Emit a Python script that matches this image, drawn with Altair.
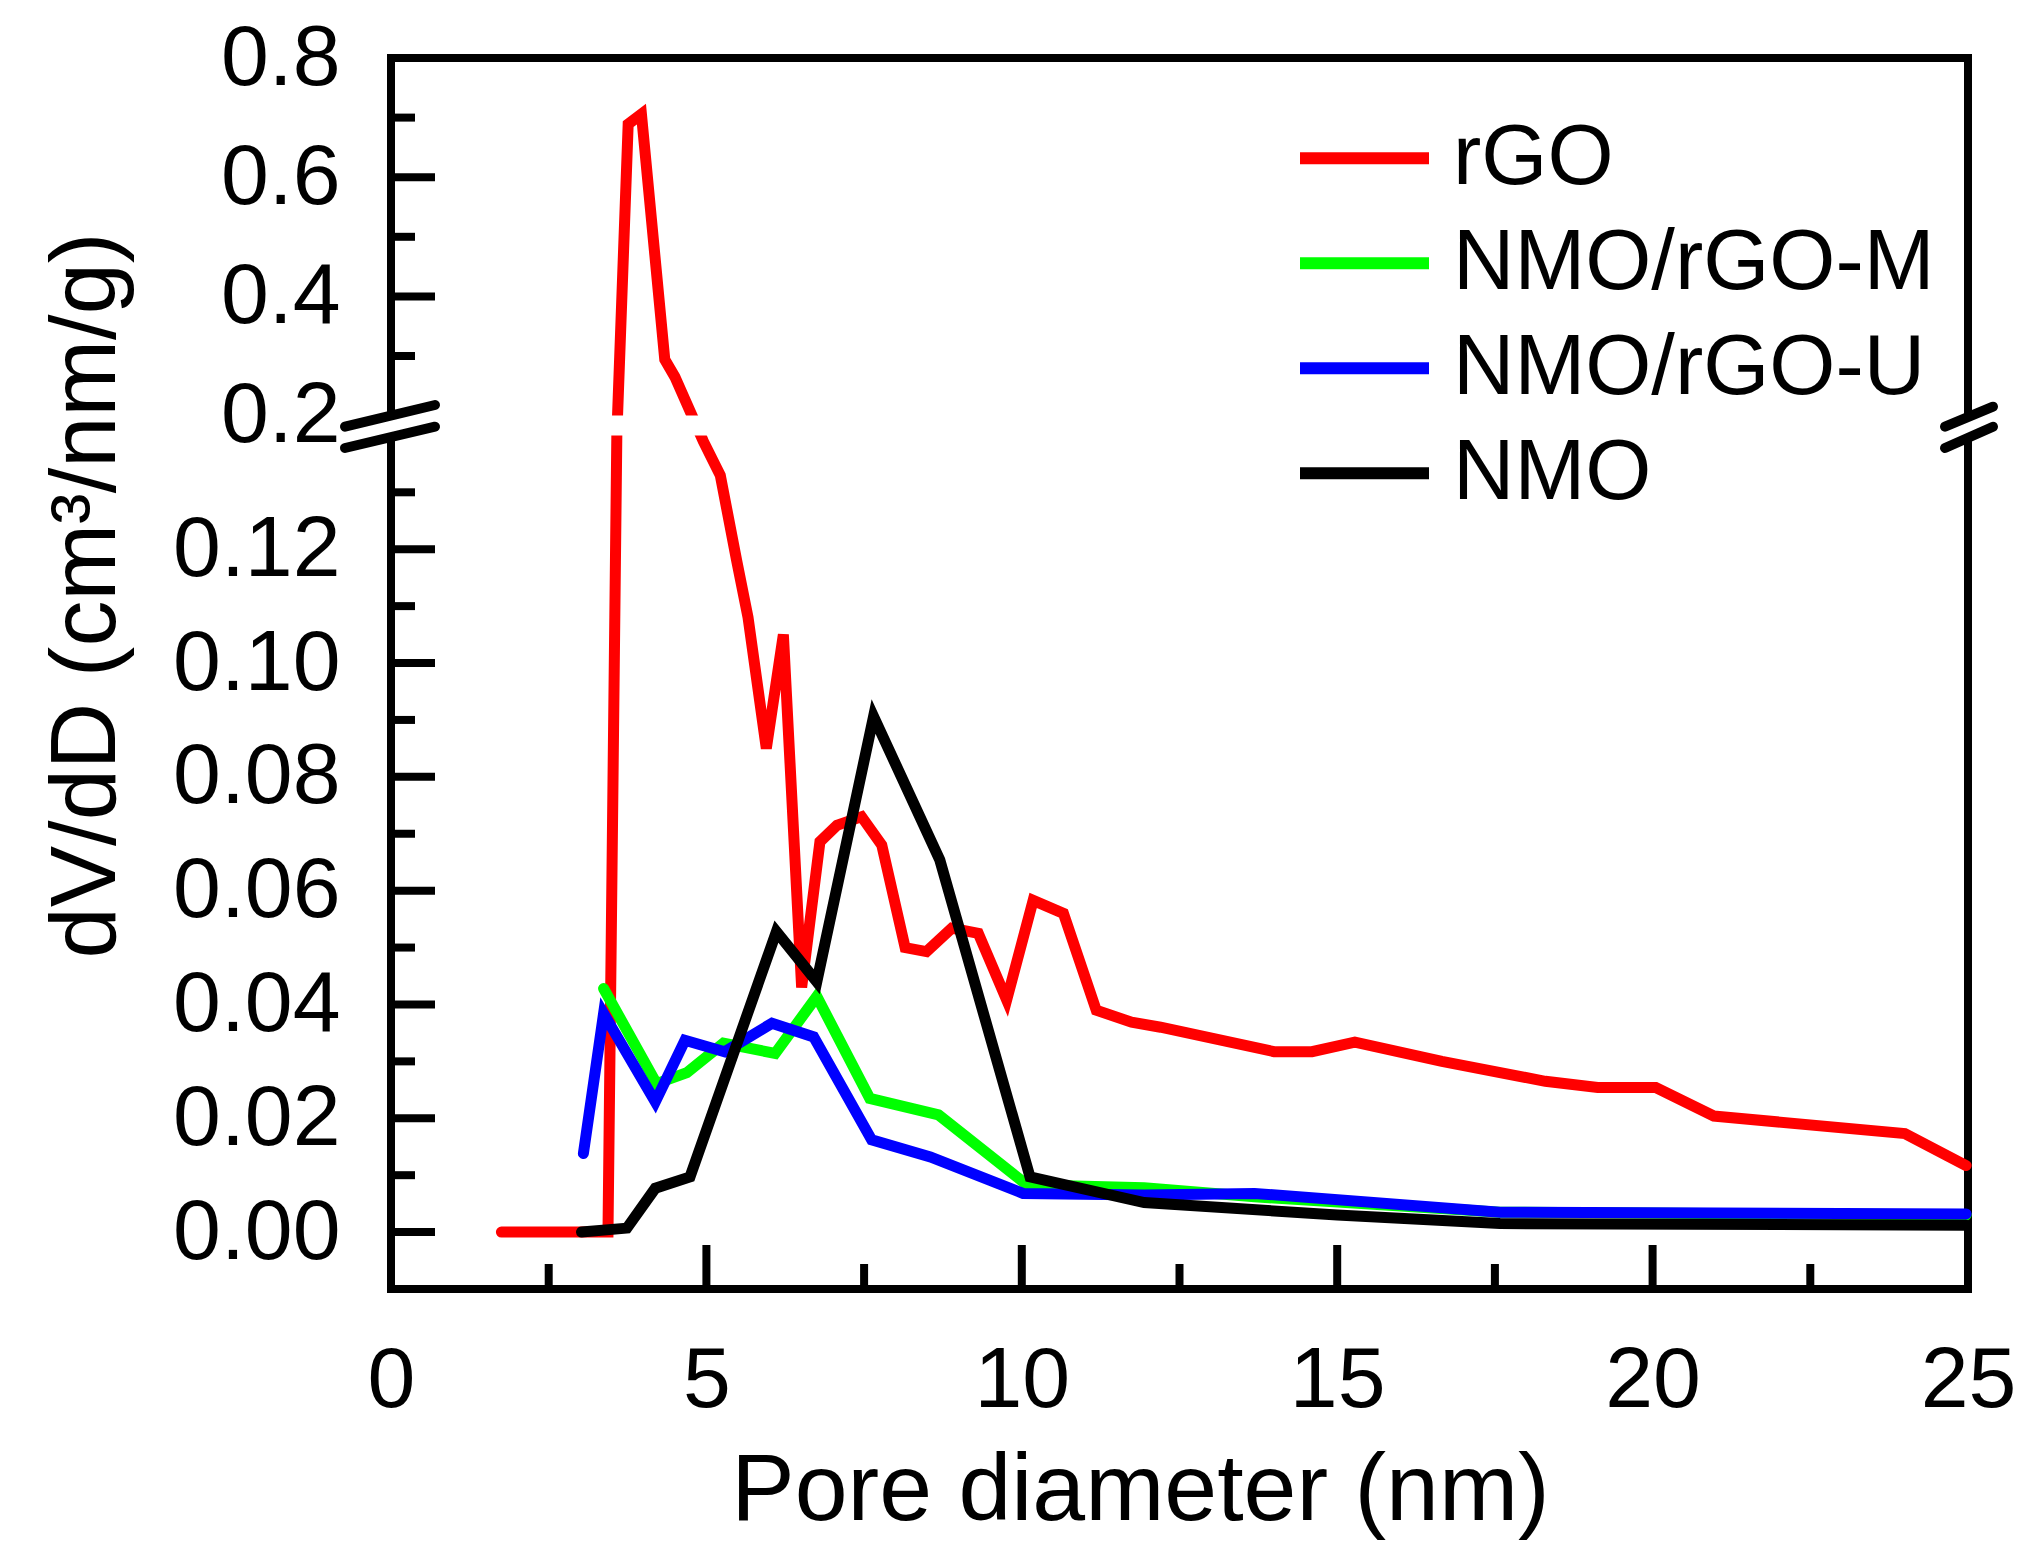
import altair as alt
import pandas as pd

# ---------------- data ----------------
series_names = ["rGO", "NMO/rGO-M", "NMO/rGO-U", "NMO"]
series_colors = ["#ff0000", "#00ff00", "#0000ff", "#000000"]

rgo_x = [1.75, 3.44, 3.58, 3.76, 3.97, 4.34, 4.50, 4.95, 5.22, 5.48, 5.66, 5.95,
         6.22, 6.51, 6.80, 7.07, 7.46, 7.78, 8.15, 8.49, 8.89, 9.31, 9.76, 10.18,
         10.66, 11.18, 11.74, 12.20, 14.00, 14.60, 15.28, 16.66, 18.30, 19.13,
         20.05, 20.97, 24.00, 24.97]
rgo_y = [0.0, 0.0, 0.14, 0.689, 0.706, 0.294, 0.265, 0.139, 0.133, 0.118, 0.108, 0.085,
         0.105, 0.043, 0.0686, 0.0715, 0.073, 0.068, 0.050, 0.0493, 0.0534, 0.0525, 0.0408, 0.0583,
         0.056, 0.039, 0.0369, 0.036, 0.0317, 0.0317, 0.0334, 0.030, 0.0265, 0.0254,
         0.0254, 0.0204, 0.0173, 0.0117]

m_x = [3.37, 4.21, 4.69, 5.27, 6.09, 6.75, 7.59, 8.68, 10.08, 11.94, 13.69, 17.58, 24.97]
m_y = [0.0428, 0.0261, 0.028, 0.0332, 0.0314, 0.0414, 0.0235, 0.0206, 0.0083, 0.0078, 0.0062, 0.0035, 0.0030]

u_x = [3.05, 3.37, 4.19, 4.66, 5.29, 6.04, 6.70, 7.62, 8.55, 10.02, 11.94, 13.69, 17.58, 24.97]
u_y = [0.0138, 0.0384, 0.0229, 0.0337, 0.0317, 0.0367, 0.0343, 0.0162, 0.0132, 0.0068, 0.0065, 0.0068, 0.0035, 0.0032]

nmo_x = [3.02, 3.74, 4.19, 4.74, 6.11, 6.75, 7.65, 8.70, 10.13, 11.94, 15.00, 17.58, 24.97]
nmo_y = [0.0, 0.0007, 0.0077, 0.0097, 0.0528, 0.044, 0.0906, 0.0654, 0.0097, 0.0052, 0.0030, 0.0015, 0.0012]

x_labels = [0, 5, 10, 15, 20, 25]
x_major = [5, 10, 15, 20]
x_minor = [2.5, 7.5, 12.5, 17.5, 22.5]
y_labels = [0.00, 0.02, 0.04, 0.06, 0.08, 0.10, 0.12, 0.2, 0.4, 0.6, 0.8]
y_major = [0.00, 0.02, 0.04, 0.06, 0.08, 0.10, 0.12, 0.4, 0.6]
y_minor = [0.01, 0.03, 0.05, 0.07, 0.09, 0.11, 0.13, 0.3, 0.5, 0.7]

# broken y axis: lower part -0.01..0.14, upper part 0.2..0.8
Y_DOMAIN = [-0.01, 0.14, 0.2, 0.8]
BREAK_LO, BREAK_HI = 0.14, 0.2

# ---------------- layout ----------------
W, H = 1577, 1231
Y_RANGE = [H, 377.4, 357.6, 0]
FONT = "Liberation Sans"
XTITLE = "Pore diameter (nm)"
YTITLE = "dV/dD (cm³/nm/g)"

rows = []
for name, xs, ys in [("rGO", rgo_x, rgo_y), ("NMO/rGO-M", m_x, m_y),
                     ("NMO/rGO-U", u_x, u_y), ("NMO", nmo_x, nmo_y)]:
    for i, (a, b) in enumerate(zip(xs, ys)):
        rows.append({"series": name, "x": a, "y": b, "order": i})
df = pd.DataFrame(rows)

xscale = alt.Scale(domain=[0, 25], nice=False, zero=False)
yscale = alt.Scale(domain=Y_DOMAIN, range=Y_RANGE, nice=False, zero=False)

xaxis = alt.Axis(values=x_labels, format="d", ticks=False, domain=False, grid=False,
                 labelFontSize=86, labelFont=FONT, labelColor="black", labelPadding=49,
                 labelFlush=False, labelOverlap=False,
                 titleFontSize=95, titleFont=FONT, titleFontWeight="normal", titleColor="black",
                 titleX=749, titleY=230, titleAlign="center", titleBaseline="alphabetic")
yaxis = alt.Axis(values=y_labels, ticks=False, domain=False, grid=False,
                 labelExpr="datum.value < 0.17 ? format(datum.value, '.2f') : format(datum.value, '.1f')",
                 labelFontSize=86, labelFont=FONT, labelColor="black", labelPadding=51,
                 labelFlush=False, labelOverlap=False,
                 titleFontSize=92, titleFont=FONT, titleFontWeight="normal", titleColor="black",
                 titleX=-277, titleY=537, titleAngle=270, titleAlign="center",
                 titleBaseline="alphabetic")

color = alt.Color("series:N",
                  scale=alt.Scale(domain=series_names, range=series_colors),
                  legend=alt.Legend(orient="none", legendX=903, legendY=48, title=None,
                                    symbolType="stroke", symbolSize=129 * 129,
                                    symbolStrokeWidth=12, labelFontSize=85, labelFont=FONT,
                                    labelColor="black", labelOffset=18, labelLimit=0,
                                    clipHeight=104.6, rowPadding=0, padding=0, offset=0))

layers = []
for i, name in enumerate(series_names):
    layers.append(
        alt.Chart(df).transform_filter(alt.datum.series == name)
        .mark_line(strokeWidth=11, strokeCap="round")
        .encode(
            x=alt.X("x:Q", scale=xscale, axis=xaxis, title=XTITLE),
            y=alt.Y("y:Q", scale=yscale, axis=yaxis, title=YTITLE),
            color=color,
            order="order:Q",
        )
    )

# white band hiding the data across the axis break
band = alt.Chart(pd.DataFrame({"k": [0]})).mark_rect(color="white").encode(
    x=alt.value(-12), x2=alt.value(W + 12),
    y=alt.datum(BREAK_HI), y2=alt.datum(BREAK_LO),
)

# inward ticks
ymaj = alt.Chart(pd.DataFrame({"y": y_major})).mark_rule(color="black", strokeWidth=8).encode(
    y=alt.Y("y:Q", scale=yscale, title=YTITLE), x=alt.value(0), x2=alt.value(44))
ymin = alt.Chart(pd.DataFrame({"y": y_minor})).mark_rule(color="black", strokeWidth=8).encode(
    y=alt.Y("y:Q", scale=yscale, title=YTITLE), x=alt.value(0), x2=alt.value(24))
xmaj = alt.Chart(pd.DataFrame({"x": x_major})).mark_rule(color="black", strokeWidth=8).encode(
    x=alt.X("x:Q", scale=xscale, title=XTITLE), y=alt.value(H), y2=alt.value(H - 44))
xmin = alt.Chart(pd.DataFrame({"x": x_minor})).mark_rule(color="black", strokeWidth=8).encode(
    x=alt.X("x:Q", scale=xscale, title=XTITLE), y=alt.value(H), y2=alt.value(H - 25))

# break marks (//) on left and right frame
def slash(x1, y1, x2, y2):
    return alt.Chart(pd.DataFrame({"k": [0]})).mark_rule(
        color="black", strokeWidth=10, strokeCap="round").encode(
        x=alt.value(x1), y=alt.value(y1), x2=alt.value(x2), y2=alt.value(y2))

slashes = [
    slash(-46, 368.7, 44, 347.0),
    slash(-46, 390.0, 44, 368.7),
    slash(W - 23, 368.7, W + 25, 348.7),
    slash(W - 23, 390.0, W + 25, 368.7),
]

chart = alt.layer(*layers, band, ymaj, ymin, xmaj, xmin, *slashes).properties(
    width=W, height=H,
    autosize=alt.AutoSizeParams(type="none"),
    padding={"left": 383, "top": 50, "right": 54, "bottom": 253},
    background="white",
).configure_view(stroke="black", strokeWidth=8)

chart.save("out.html", embed_options={"renderer": "svg", "actions": False})
